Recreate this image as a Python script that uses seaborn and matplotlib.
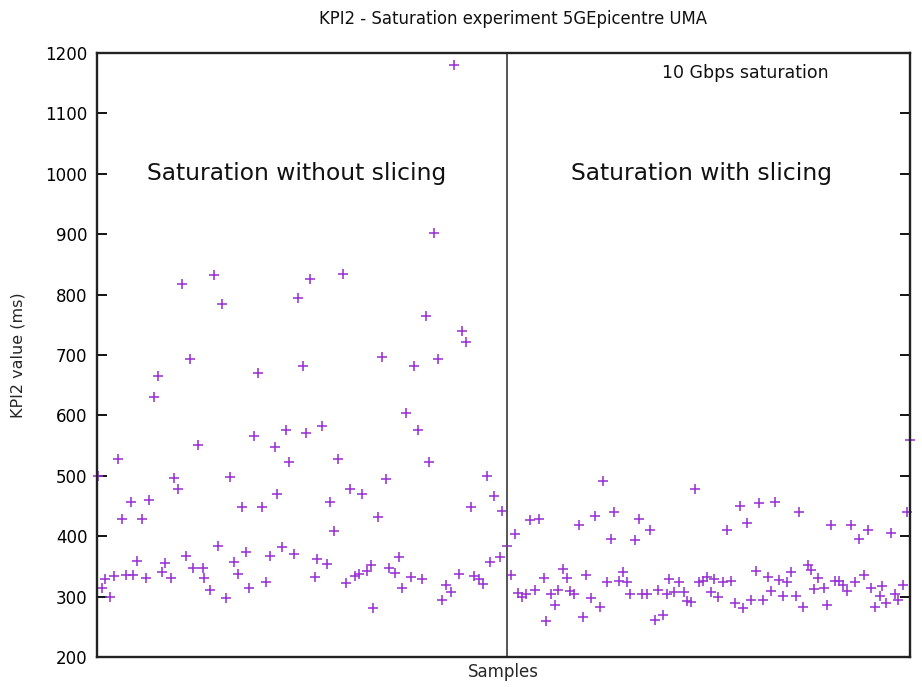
import matplotlib
matplotlib.use("Agg")
import matplotlib.pyplot as plt
import seaborn as sns
import pandas as pd

# ---- data (sample index, KPI2 value in ms) ----
samples_no_slicing = [0.2, 1.5, 2.5, 3.9, 5.2, 6.6, 7.7, 8.8, 10.4, 11.2, 12.3, 13.8, 15.2, 15.9,
                      17.4, 18.9, 19.9, 20.9, 22.8, 23.8, 24.8, 26.1, 27.3, 28.7, 29.5, 31.0, 32.6,
                      32.8, 34.9, 36.1, 37.3, 38.4, 39.8, 40.8, 42.1, 43.3, 44.5, 45.9, 46.6, 48.4,
                      49.6, 50.7, 51.9, 53.3, 54.6, 55.4, 57.0, 58.1, 59.1, 60.5, 61.9, 63.2, 64.2,
                      65.4, 66.9, 67.7, 69.1, 70.8, 71.8, 72.8, 74.1, 75.5, 76.5, 77.9, 79.4, 80.6,
                      81.6, 83.1, 84.3, 84.9, 86.4, 87.6, 89.0, 89.8, 91.5, 92.9, 93.8, 95.0, 96.6,
                      97.6, 98.7, 100.0, 101.2, 102.2, 103.5, 104.8, 106.2, 107.3, 108.9, 109.9,
                      111.4, 112.2, 113.6, 115.1, 116.0, 117.4, 118.7, 119.9, 120.9, 122.2, 123.8,
                      124.6, 126.1]
kpi2_no_slicing = [499, 314, 329, 300, 334, 527, 429, 336, 457, 336, 359, 429, 331, 460,
                   630, 665, 341, 356, 330, 497, 478, 818, 368, 693, 348, 551, 348,
                   331, 311, 832, 384, 784, 298, 498, 357, 337, 448, 374, 315, 566,
                   670, 449, 324, 367, 547, 469, 382, 575, 523, 370, 795, 682, 570,
                   826, 332, 363, 582, 354, 457, 409, 527, 834, 322, 478, 334, 337,
                   469, 342, 352, 281, 431, 696, 494, 347, 339, 366, 315, 604, 333,
                   682, 575, 329, 765, 523, 902, 693, 295, 319, 307, 1180,
                   337, 739, 722, 449, 334, 329, 321, 499, 357, 467, 366,
                   442, 383]

samples_slicing = [127.3, 128.5, 129.5, 130.7, 131.9, 133.0, 134.6, 135.8, 137.4, 138.2, 139.5,
                   140.9, 141.8, 143.2, 144.4, 145.6, 146.7, 148.1, 149.5, 150.4, 152.0, 153.0,
                   154.7, 155.5, 156.7, 158.2, 159.0, 160.4, 161.6, 163.1, 163.9, 165.3, 166.8,
                   167.6, 169.0, 170.2, 171.7, 172.5, 173.9, 175.2, 176.0, 177.4, 179.1, 180.5,
                   181.5, 182.6, 184.0, 185.0, 186.2, 187.5, 188.7, 189.8, 191.0, 192.6, 193.8,
                   194.9, 196.1, 197.8, 198.6, 199.8, 201.2, 202.5, 203.5, 204.7, 206.2, 207.4,
                   208.4, 209.8, 210.9, 212.1, 213.3, 214.8, 215.8, 217.2, 218.5, 219.5, 220.5,
                   221.8, 223.6, 224.4, 225.8, 226.9, 228.3, 229.3, 230.6, 232.0, 233.0, 234.2,
                   235.7, 237.1, 237.9, 239.2, 240.8, 241.4, 242.7, 244.3, 245.5, 246.3, 247.8,
                   249.0, 250.0]
kpi2_slicing = [335, 404, 306, 300, 305, 426, 311, 428, 331, 260, 305,
                286, 311, 345, 330, 310, 305, 419, 267, 335, 297, 433,
                283, 492, 324, 396, 440, 326, 341, 324, 305, 393, 428,
                305, 304, 411, 262, 311, 269, 305, 329, 308, 324, 308,
                292, 291, 478, 324, 325, 332, 307, 329, 300, 324, 411,
                326, 290, 450, 281, 422, 294, 343, 455, 294, 333, 309,
                457, 328, 301, 324, 341, 301, 440, 283, 352, 344, 312,
                330, 314, 286, 419, 326, 325, 319, 310, 419, 324, 396,
                336, 411, 315, 283, 301, 318, 290, 406, 305, 294, 319,
                440, 560]

split_sample = 126.2
y_ticks = [200, 300, 400, 500, 600, 700, 800, 900, 1000, 1100, 1200]

title = "KPI2 - Saturation experiment 5GEpicentre UMA"
left_label = "Saturation without slicing"
right_label = "Saturation with slicing"
corner_label = "10 Gbps saturation"

df = pd.DataFrame({
    "Samples": samples_no_slicing + samples_slicing,
    "KPI2": kpi2_no_slicing + kpi2_slicing,
})

sns.set_style("white")
plt.rcParams["font.family"] = ["DejaVu Sans"]

fig = plt.figure(figsize=(9.22, 6.87), dpi=100)
ax = fig.add_axes([0.1052, 0.0437, 0.8818, 0.8792])

sns.scatterplot(data=df, x="Samples", y="KPI2", ax=ax, marker="+",
                color="#9933d4", s=55, linewidth=1.15, legend=False, clip_on=False)

ax.axvline(split_sample, color="#555555", linewidth=1.4, zorder=1)

ax.set_xlim(0, 250)
ax.set_ylim(200, 1200)
ax.set_yticks(y_ticks)
ax.set_xticks([])
ax.tick_params(axis="y", direction="in", length=7, width=1.3, labelsize=12,
               pad=7, right=True, left=True, colors="black")
for sp in ax.spines.values():
    sp.set_color("#222222")
    sp.set_linewidth(1.7)

ax.set_xlabel("Samples", fontsize=12, labelpad=4)
ax.set_ylabel("KPI2 value (ms)", fontsize=11.5, labelpad=14)
fig.text(0.556, 0.973, title, fontsize=11.9, ha="center", va="center", color="#111111")

ax.text(61.5, 1001, left_label, fontsize=16.8, ha="center", va="center", color="#111111")
ax.text(185.8, 1001, right_label, fontsize=16.8, ha="center", va="center", color="#111111")
ax.text(199.4, 1167, corner_label, fontsize=12.5, ha="center", va="center", color="#111111")

fig.savefig("out.png", dpi=100, facecolor="white")
